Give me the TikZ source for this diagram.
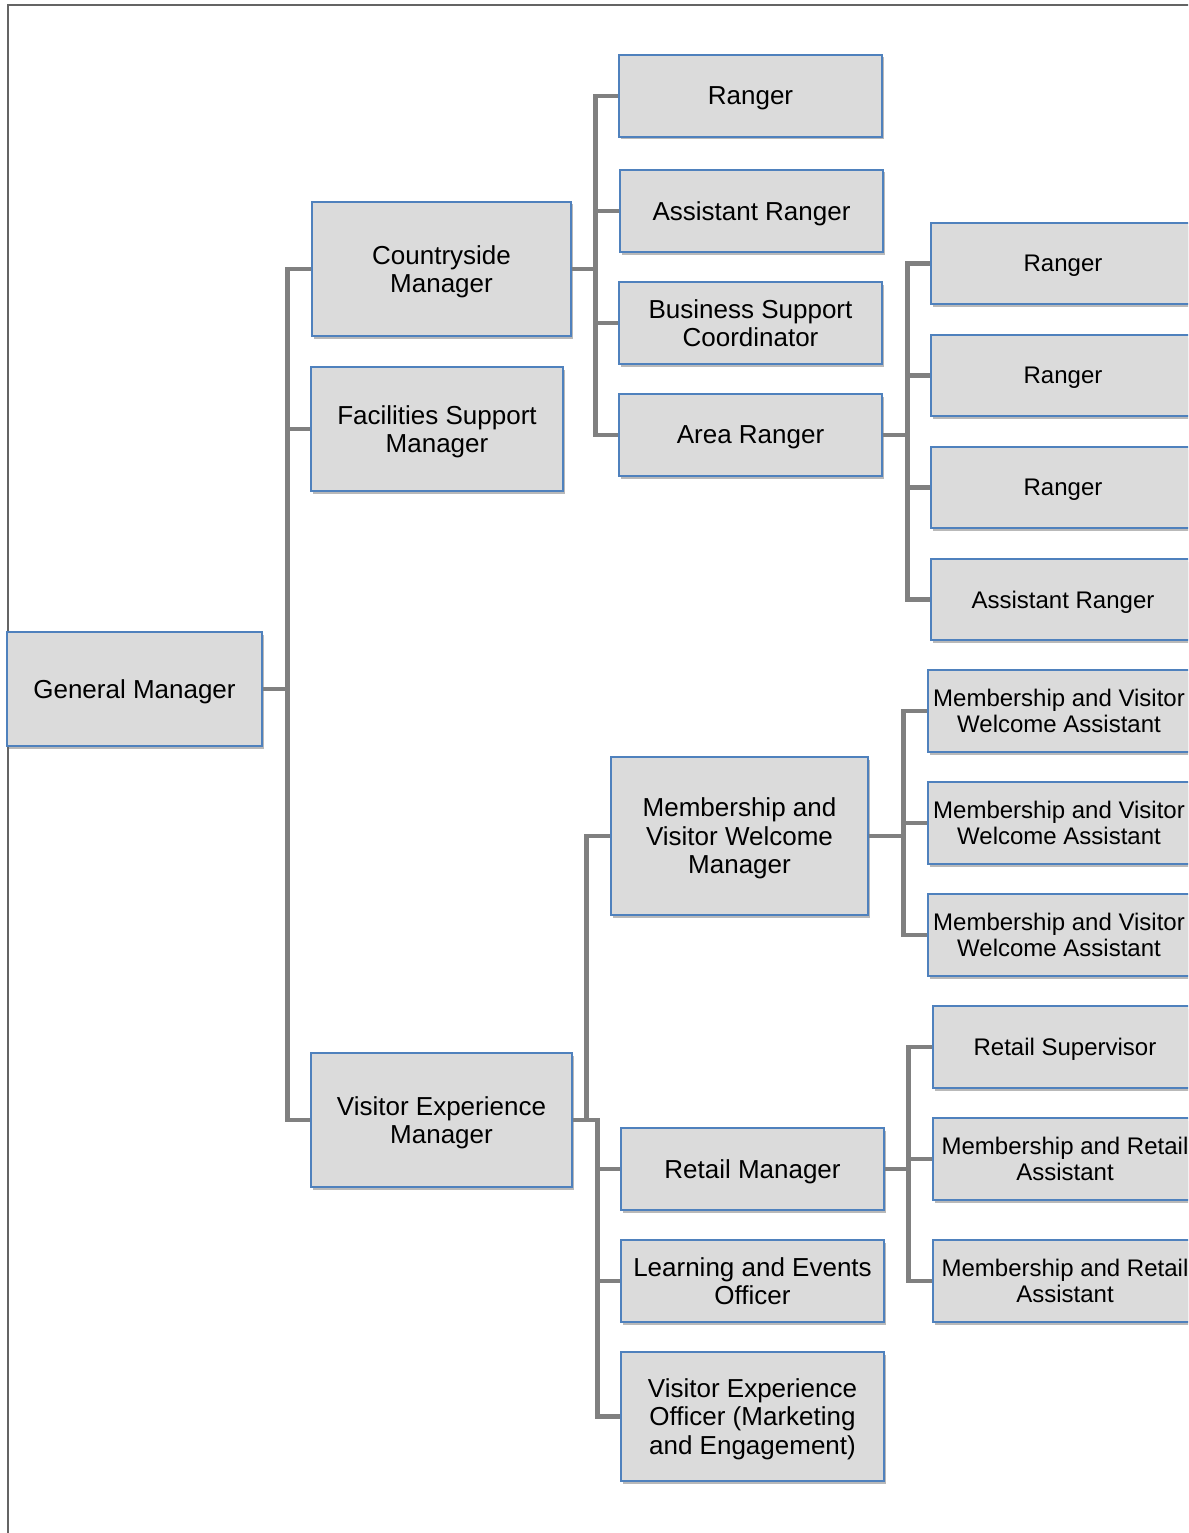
\documentclass[tikz,border=0pt]{standalone}
\usepackage{fontspec}
\setmainfont{Liberation Sans}
\usetikzlibrary{shadows}
\definecolor{boxfill}{RGB}{219,219,219}
\definecolor{boxline}{RGB}{79,129,189}
\definecolor{conncol}{RGB}{128,128,128}
\definecolor{framecol}{RGB}{100,100,100}
\begin{document}
\begin{tikzpicture}[x=1pt,y=-1pt,
  box/.style={draw=boxline, line width=1.3pt, fill=boxfill, align=center, inner sep=2pt,
    drop shadow={shadow xshift=1.5pt, shadow yshift=-2.5pt, opacity=0.55},
    font=\fontsize{26}{28.5}\selectfont, text depth=0pt},
  sbox/.style={box, font=\fontsize{24}{26.5}\selectfont},
  conn/.style={draw=conncol, line width=4.5pt}]
\clip (0,0) rectangle (1188,1533);
\fill[white] (0,0) rectangle (1188,1533);
\draw[framecol, line width=2pt] (7.5,1540) -- (7.5,5.5) -- (1195,5.5);

% level 1
\node[box, minimum width=255pt, minimum height=114pt] (gm) at (134.5,689) {General Manager};
% level 2
\node[box, minimum width=259pt, minimum height=134pt] (cm) at (441.5,269) {Countryside\\Manager};
\node[box, minimum width=252pt, minimum height=124pt] (fsm) at (437,429) {Facilities Support\\Manager};
\node[box, minimum width=261pt, minimum height=134pt] (vem) at (441.5,1120) {Visitor Experience\\Manager};
% countryside children
\node[box, minimum width=263pt, minimum height=82pt] (r1) at (750.5,96) {Ranger};
\node[box, minimum width=263pt, minimum height=82pt] (ar1) at (751.5,211) {Assistant Ranger};
\node[box, minimum width=263pt, minimum height=82pt] (bsc) at (750.5,323) {Business Support\\Coordinator};
\node[box, minimum width=263pt, minimum height=82pt] (area) at (750.5,435) {Area Ranger};
% area ranger children
\node[sbox, minimum width=264pt, minimum height=81pt] (r2) at (1063,263.5) {Ranger};
\node[sbox, minimum width=264pt, minimum height=81pt] (r3) at (1063,375.5) {Ranger};
\node[sbox, minimum width=264pt, minimum height=81pt] (r4) at (1063,487.5) {Ranger};
\node[sbox, minimum width=264pt, minimum height=81pt] (ar2) at (1063,599.5) {Assistant Ranger};
% visitor experience children
\node[box, minimum width=257pt, minimum height=158pt] (mvwm) at (739.5,836) {Membership and\\Visitor Welcome\\Manager};
\node[box, minimum width=263pt, minimum height=82pt] (rm) at (752.5,1169) {Retail Manager};
\node[box, minimum width=263pt, minimum height=82pt] (leo) at (752.5,1281) {Learning and Events\\Officer};
\node[box, minimum width=263pt, minimum height=129pt] (veo) at (752.5,1416.5) {Visitor Experience\\Officer (Marketing\\and Engagement)};
% membership children
\node[sbox, minimum width=262pt, minimum height=82pt] (mva1) at (1059,711) {Membership and Visitor\\Welcome Assistant};
\node[sbox, minimum width=262pt, minimum height=82pt] (mva2) at (1059,823) {Membership and Visitor\\Welcome Assistant};
\node[sbox, minimum width=262pt, minimum height=82pt] (mva3) at (1059,935) {Membership and Visitor\\Welcome Assistant};
% retail children
\node[sbox, minimum width=264pt, minimum height=82pt] (rs) at (1065,1047) {Retail Supervisor};
\node[sbox, minimum width=264pt, minimum height=82pt] (mra1) at (1065,1159) {Membership and Retail\\Assistant};
\node[sbox, minimum width=264pt, minimum height=82pt] (mra2) at (1065,1281) {Membership and Retail\\Assistant};

% connectors
\foreach \c in {cm,fsm,vem} \draw[conn] (gm.east) -- ++(25,0) |- (\c.west);
\foreach \c in {r1,ar1,bsc,area} \draw[conn] (cm.east) -- ++(24,0) |- (\c.west);
\foreach \c in {r2,r3,r4,ar2} \draw[conn] (area.east) -- ++(25,0) |- (\c.west);
\draw[conn] (vem.east) -- ++(14,0) |- (mvwm.west);
\foreach \c in {rm,leo,veo} \draw[conn] (vem.east) -- ++(25,0) |- (\c.west);
\foreach \c in {mva1,mva2,mva3} \draw[conn] (mvwm.east) -- ++(35,0) |- (\c.west);
\foreach \c in {rs,mra1,mra2} \draw[conn] (rm.east) -- ++(24,0) |- (\c.west);
\end{tikzpicture}
\end{document}
